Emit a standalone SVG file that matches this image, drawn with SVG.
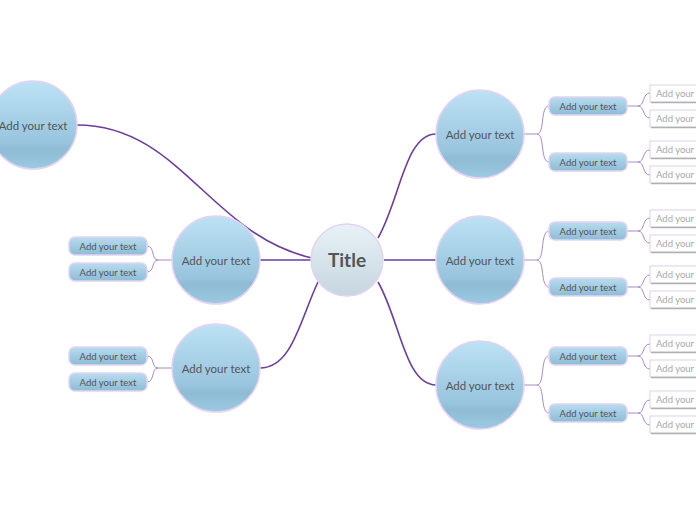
<svg xmlns="http://www.w3.org/2000/svg" width="696" height="520" viewBox="0 0 696 520">
<defs>
<linearGradient id="gMain" x1="0" y1="0" x2="0" y2="1">
<stop offset="0" stop-color="#bde2f5"/>
<stop offset="0.7" stop-color="#98c4dd"/>
<stop offset="0.78" stop-color="#8fbbd5"/>
<stop offset="1" stop-color="#9ccae2"/>
</linearGradient>
<linearGradient id="gTitle" x1="0" y1="0" x2="0" y2="1">
<stop offset="0" stop-color="#e8f2f8"/>
<stop offset="0.7" stop-color="#d0dee6"/>
<stop offset="1" stop-color="#c6d6df"/>
</linearGradient>
<linearGradient id="gSub" x1="0" y1="0" x2="0" y2="1">
<stop offset="0" stop-color="#b8dcef"/>
<stop offset="1" stop-color="#8dbcd6"/>
</linearGradient>
</defs>
<style>
.main{fill:url(#gMain);stroke:#e3d3f1;stroke-width:1.5}
.title{fill:url(#gTitle);stroke:#e3d3f1;stroke-width:1.5}
.sub{fill:url(#gSub);stroke:#e3d3f1;stroke-width:1.5}
.leaf{fill:#ffffff;stroke:#ddd0ea;stroke-width:1}
.leafsh{stroke:#b0b0b0;stroke-width:1.5}
.t{font-family:Lato,"Open Sans",sans-serif;fill:#555;text-anchor:middle;dominant-baseline:central}
.tm{font-size:11.5px}
.ts{font-size:9.5px}
.tl{font-family:Lato,"Open Sans",sans-serif;fill:#a8a8a8;font-size:9.5px;dominant-baseline:central}
.c1{fill:none;stroke:#6b3d9c;stroke-width:1.6}
.c2{fill:none;stroke:#a68ac6;stroke-width:1}
</style>
<g id="connectors">
<path class="c1" d="M77,125 C180,125 210,235 312,258"/>
<path class="c1" d="M311,260 L260,260"/>
<path class="c1" d="M318,282 C300,320 292,368 260,368"/>
<path class="c1" d="M378,238 C400,200 405,134 436,134"/>
<path class="c1" d="M384,260 L436,260"/>
<path class="c1" d="M378,282 C400,320 405,385 436,385"/>
<path class="c2" d="M172,260 L158,260 C151,260 155,246 147,246 M158,260 C151,260 155,272 147,272"/>
<path class="c2" d="M172,368 L158,368 C151,368 155,356 147,356 M158,368 C151,368 155,382 147,382"/>
<path class="c2" d="M524,134 L537,134 C545,134 540,106 549,106 M537,134 C545,134 540,162 549,162"/>
<path class="c2" d="M524,260 L537,260 C545,260 540,231 549,231 M537,260 C545,260 540,287 549,287"/>
<path class="c2" d="M524,385 L537,385 C545,385 540,356 549,356 M537,385 C545,385 540,413 549,413"/>
<path class="c2" d="M627,106 L638,106 C645,106 642,93 650,93 M638,106 C645,106 642,118 650,118"/>
<path class="c2" d="M627,162 L638,162 C645,162 642,150 650,150 M638,162 C645,162 642,175 650,175"/>
<path class="c2" d="M627,231 L638,231 C645,231 642,218 650,218 M638,231 C645,231 642,243 650,243"/>
<path class="c2" d="M627,287 L638,287 C645,287 642,275 650,275 M638,287 C645,287 642,300 650,300"/>
<path class="c2" d="M627,356 L638,356 C645,356 642,344 650,344 M638,356 C645,356 642,369 650,369"/>
<path class="c2" d="M627,413 L638,413 C645,413 642,400 650,400 M638,413 C645,413 642,425 650,425"/>
</g>
<g id="title"><circle class="title" cx="347" cy="260" r="36"/><text class="t" x="347" y="259" font-size="19" font-weight="bold">Title</text></g>
<g id="n1"><circle class="main" cx="33" cy="125" r="44"/><text class="t tm" x="33" y="125">Add your text</text></g>
<g id="n2"><circle class="main" cx="216" cy="260" r="44"/><text class="t tm" x="216" y="260">Add your text</text></g>
<g id="n3"><circle class="main" cx="216" cy="368" r="44"/><text class="t tm" x="216" y="368">Add your text</text></g>
<g id="n4"><circle class="main" cx="480" cy="134" r="44"/><text class="t tm" x="480" y="134">Add your text</text></g>
<g id="n5"><circle class="main" cx="480" cy="260" r="44"/><text class="t tm" x="480" y="260">Add your text</text></g>
<g id="n6"><circle class="main" cx="480" cy="385" r="44"/><text class="t tm" x="480" y="385">Add your text</text></g>
<g id="s1"><rect class="sub" x="69" y="237" width="78" height="18" rx="6"/><text class="t ts" x="108" y="246">Add your text</text></g>
<g id="s2"><rect class="sub" x="69" y="263" width="78" height="18" rx="6"/><text class="t ts" x="108" y="272">Add your text</text></g>
<g id="s3"><rect class="sub" x="69" y="347" width="78" height="18" rx="6"/><text class="t ts" x="108" y="356">Add your text</text></g>
<g id="s4"><rect class="sub" x="69" y="373" width="78" height="18" rx="6"/><text class="t ts" x="108" y="382">Add your text</text></g>
<g id="s5"><rect class="sub" x="549" y="97" width="78" height="18" rx="6"/><text class="t ts" x="588" y="106">Add your text</text></g>
<g id="s6"><rect class="sub" x="549" y="153" width="78" height="18" rx="6"/><text class="t ts" x="588" y="162">Add your text</text></g>
<g id="s7"><rect class="sub" x="549" y="222" width="78" height="18" rx="6"/><text class="t ts" x="588" y="231">Add your text</text></g>
<g id="s8"><rect class="sub" x="549" y="278" width="78" height="18" rx="6"/><text class="t ts" x="588" y="287">Add your text</text></g>
<g id="s9"><rect class="sub" x="549" y="347" width="78" height="18" rx="6"/><text class="t ts" x="588" y="356">Add your text</text></g>
<g id="s10"><rect class="sub" x="549" y="404" width="78" height="18" rx="6"/><text class="t ts" x="588" y="413">Add your text</text></g>
<g id="l1"><rect class="leaf" x="650" y="85" width="60" height="17"/><line class="leafsh" x1="651" y1="102.5" x2="696" y2="102.5"/><text class="tl" x="656" y="93.5">Add your t</text></g>
<g id="l2"><rect class="leaf" x="650" y="110" width="60" height="17"/><line class="leafsh" x1="651" y1="127.5" x2="696" y2="127.5"/><text class="tl" x="656" y="118.5">Add your t</text></g>
<g id="l3"><rect class="leaf" x="650" y="141" width="60" height="17"/><line class="leafsh" x1="651" y1="158.5" x2="696" y2="158.5"/><text class="tl" x="656" y="149.5">Add your t</text></g>
<g id="l4"><rect class="leaf" x="650" y="166" width="60" height="17"/><line class="leafsh" x1="651" y1="183.5" x2="696" y2="183.5"/><text class="tl" x="656" y="174.5">Add your t</text></g>
<g id="l5"><rect class="leaf" x="650" y="210" width="60" height="17"/><line class="leafsh" x1="651" y1="227.5" x2="696" y2="227.5"/><text class="tl" x="656" y="218.5">Add your t</text></g>
<g id="l6"><rect class="leaf" x="650" y="235" width="60" height="17"/><line class="leafsh" x1="651" y1="252.5" x2="696" y2="252.5"/><text class="tl" x="656" y="243.5">Add your t</text></g>
<g id="l7"><rect class="leaf" x="650" y="266" width="60" height="17"/><line class="leafsh" x1="651" y1="283.5" x2="696" y2="283.5"/><text class="tl" x="656" y="274.5">Add your t</text></g>
<g id="l8"><rect class="leaf" x="650" y="291" width="60" height="17"/><line class="leafsh" x1="651" y1="308.5" x2="696" y2="308.5"/><text class="tl" x="656" y="299.5">Add your t</text></g>
<g id="l9"><rect class="leaf" x="650" y="335" width="60" height="17"/><line class="leafsh" x1="651" y1="352.5" x2="696" y2="352.5"/><text class="tl" x="656" y="343.5">Add your t</text></g>
<g id="l10"><rect class="leaf" x="650" y="360" width="60" height="17"/><line class="leafsh" x1="651" y1="377.5" x2="696" y2="377.5"/><text class="tl" x="656" y="368.5">Add your t</text></g>
<g id="l11"><rect class="leaf" x="650" y="391" width="60" height="17"/><line class="leafsh" x1="651" y1="408.5" x2="696" y2="408.5"/><text class="tl" x="656" y="399.5">Add your t</text></g>
<g id="l12"><rect class="leaf" x="650" y="416" width="60" height="17"/><line class="leafsh" x1="651" y1="433.5" x2="696" y2="433.5"/><text class="tl" x="656" y="424.5">Add your t</text></g>
</svg>
